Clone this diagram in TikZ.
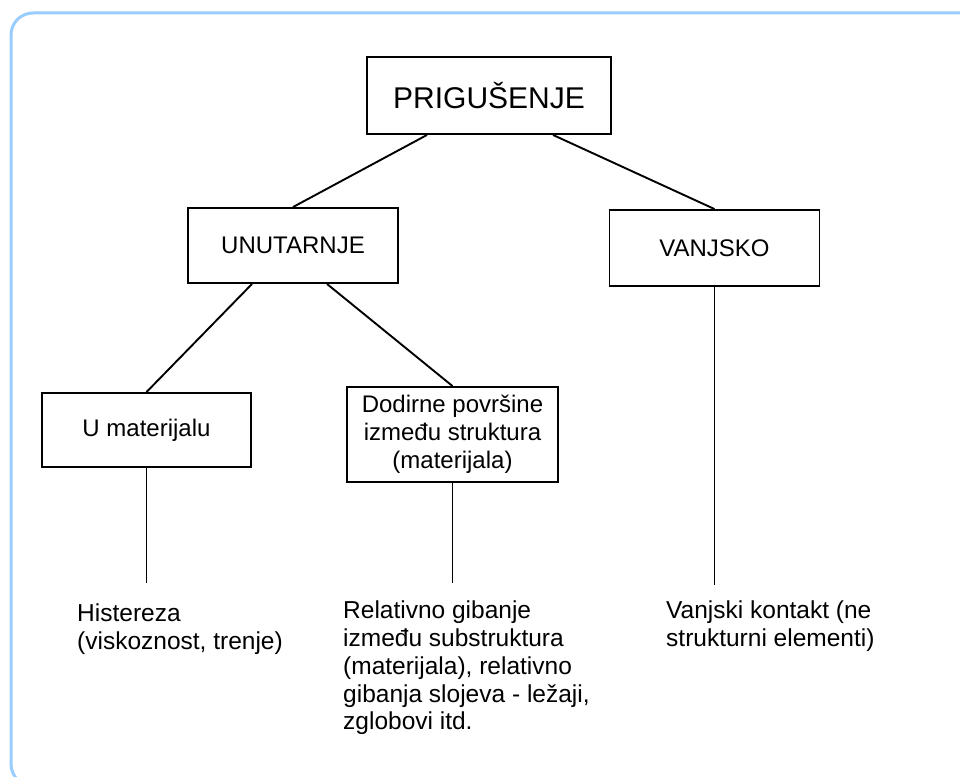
\documentclass[tikz,border=0pt]{standalone}
\usepackage{fontspec}
\setmainfont{Liberation Sans}
\usetikzlibrary{positioning, calc}
\definecolor{framebl}{RGB}{153,204,255}

\begin{document}
\begin{tikzpicture}[x=1pt, y=-1pt,
    box/.style={draw, line width=1.9pt, minimum width=210pt, inner sep=0pt, align=center, font=\fontsize{24}{28}\selectfont},
    leaf/.style={anchor=north west, inner sep=0pt, align=left, font=\fontsize{24.5}{27.7}\selectfont},
    link/.style={line width=1.9pt}]
    % Fix the canvas to the size of the page
    \useasboundingbox (0,0) rectangle (960,776);

    % Draw the rounded frame, running off the right and bottom edges
    \draw[framebl, line width=3pt, rounded corners=22pt] (11,13) rectangle (990,786);

    % Draw the boxes of the tree
    \node[box, minimum width=244pt, minimum height=77pt, font=\fontsize{30}{36}\selectfont] (prig) at (489,95.5) {PRIGUŠENJE};
    \node[box, minimum height=75pt] (unut) at (293,245.5) {UNUTARNJE};
    \node[box, minimum height=76pt] (vanj) at (714.5,248) {VANJSKO};
    \node[box, minimum width=209pt, minimum height=74pt] (umat) at (146.5,430) {U materijalu};
    \node[box, minimum width=211pt, minimum height=95pt] (dodir) at (452.5,434.5) {Dodirne površine\\između struktura\\(materijala)};

    % Draw the branches between the boxes
    \draw[link] ([xshift=-62pt]prig.south) -- (unut.north);
    \draw[link] ([xshift=64pt]prig.south) -- (vanj.north);
    \draw[link] ([xshift=-41pt]unut.south) -- (umat.north);
    \draw[link] ([xshift=34pt]unut.south) -- (dodir.north);

    % Draw the stems down to the descriptions
    \coordinate (umatend) at (146.5,583);
    \coordinate (dodirend) at (452.5,583);
    \coordinate (vanjend) at (714.5,585);
    \draw[link] (umat.south) -- (umatend);
    \draw[link] (dodir.south) -- (dodirend);
    \draw[link] (vanj.south) -- (vanjend);

    % Write the descriptions under the stems
    \node[leaf] (hist) at (77,604) {Histereza\\(viskoznost, trenje)};
    \node[leaf] (relat) at (343,601) {Relativno gibanje\\između substruktura\\(materijala), relativno\\gibanja slojeva - ležaji,\\zglobovi itd.};
    \node[leaf] (vkont) at (666,601) {Vanjski kontakt (ne\\strukturni elementi)};
\end{tikzpicture}
\end{document}
